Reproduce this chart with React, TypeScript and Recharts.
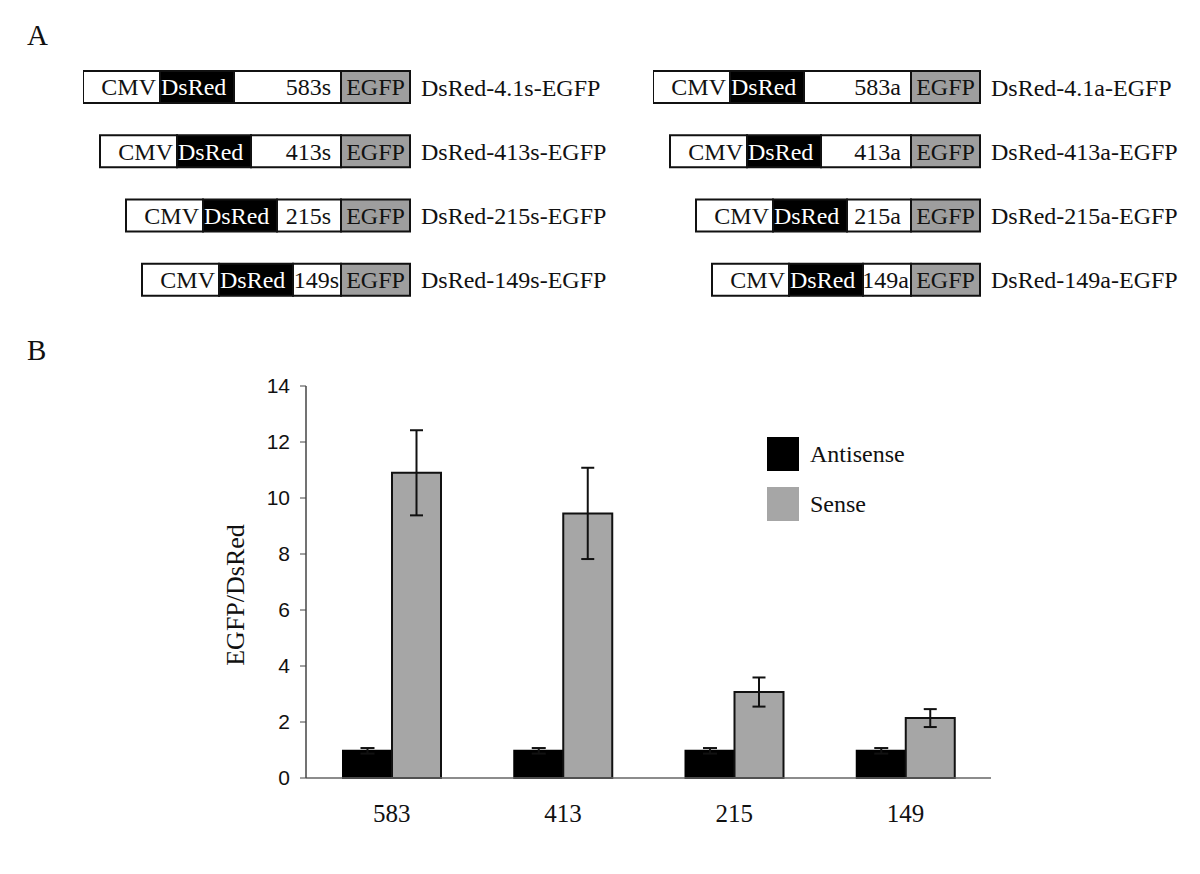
import React from 'react';
import { BarChart, Bar, XAxis, YAxis, ErrorBar, LabelList, Label } from 'recharts';

// panel A - construct schematic (segment lengths in schematic units)
const insertSizes = ['583', '413', '215', '149'];
const insertLengths = [107, 90, 64, 48];
const cmvLength = 77;
const dsredLength = 74;
const egfpLength = 69;
const senseNames = ['DsRed-4.1s-EGFP', 'DsRed-413s-EGFP', 'DsRed-215s-EGFP', 'DsRed-149s-EGFP'];
const antisenseNames = ['DsRed-4.1a-EGFP', 'DsRed-413a-EGFP', 'DsRed-215a-EGFP', 'DsRed-149a-EGFP'];

// panel B - EGFP/DsRed ratio
const categories = ['583', '413', '215', '149'];
const antisenseValues = [0.97, 0.97, 0.97, 0.97];
const antisenseErrors = [0.1, 0.1, 0.1, 0.1];
const senseValues = [10.9, 9.45, 3.07, 2.14];
const senseErrors = [1.52, 1.63, 0.52, 0.32];
const yTicks = [0, 2, 4, 6, 8, 10, 12, 14];

const serif = '"Liberation Serif", "Times New Roman", serif';
const sans = '"Liberation Sans", Arial, sans-serif';

const maxLength = cmvLength + dsredLength + Math.max(...insertLengths) + egfpLength;

const buildConstructs = (names: string[], suffix: string) =>
  names.map((name, i) => ({
    name,
    offset: maxLength - (cmvLength + dsredLength + insertLengths[i] + egfpLength),
    cmv: cmvLength,
    dsred: dsredLength,
    insert: insertLengths[i],
    egfp: egfpLength,
    insertLabel: insertSizes[i] + suffix,
  }));

const senseConstructs = buildConstructs(senseNames, 's');
const antisenseConstructs = buildConstructs(antisenseNames, 'a');

const ratioData = categories.map((name, i) => ({
  name,
  antisense: antisenseValues[i],
  antisenseErr: antisenseErrors[i],
  sense: senseValues[i],
  senseErr: senseErrors[i],
}));

const series = [
  { key: 'antisense', name: 'Antisense', fill: '#000000' },
  { key: 'sense', name: 'Sense', fill: '#a6a6a6' },
];

const boxOf = (p: any) => {
  const v = p.viewBox && p.viewBox.width !== undefined ? p.viewBox : p;
  return { x: Number(v.x), y: Number(v.y), width: Number(v.width), height: Number(v.height) };
};

const segmentText =
  (text: string | null, align: 'start' | 'middle' | 'end', color: string, pad = 0) =>
  (props: any) => {
    const { x, y, width, height } = boxOf(props);
    const label = text ?? String(props.value);
    let p = pad;
    if (text === null) p = Math.min(10, Math.max(2, (width - 44) / 2));
    let tx = x + p;
    if (align === 'middle') tx = x + width / 2;
    if (align === 'end') tx = x + width - p;
    return (
      <text x={tx} y={y + height / 2} dy="0.35em" textAnchor={align} fill={color} fontFamily={serif} fontSize={24}>
        {label}
      </text>
    );
  };

const ConstructChart = ({ data, left }: { data: any[]; left: number }) => (
  <div style={{ position: 'absolute', left, top: 55 }}>
    <BarChart
      width={maxLength + 200}
      height={257}
      data={data}
      layout="vertical"
      margin={{ top: 0, right: 0, bottom: 0, left: 0 }}
      barSize={32}
    >
      <XAxis type="number" hide domain={[0, maxLength]} />
      <YAxis
        type="category"
        dataKey="name"
        orientation="right"
        width={200}
        axisLine={false}
        tickLine={false}
        tickSize={0}
        tickMargin={11}
        tick={{ fontFamily: serif, fontSize: 24, fill: '#111' }}
      />
      <Bar dataKey="offset" stackId="c" fill="none" isAnimationActive={false} />
      <Bar dataKey="cmv" stackId="c" fill="#ffffff" stroke="#111" strokeWidth={2} isAnimationActive={false}>
        <LabelList content={segmentText('CMV', 'end', '#111', 4)} />
      </Bar>
      <Bar dataKey="dsred" stackId="c" fill="#000000" stroke="#111" strokeWidth={2} isAnimationActive={false}>
        <LabelList content={segmentText('DsRed', 'start', '#ffffff', 1)} />
      </Bar>
      <Bar dataKey="insert" stackId="c" fill="#ffffff" stroke="#111" strokeWidth={2} isAnimationActive={false}>
        <LabelList dataKey="insertLabel" content={segmentText(null, 'end', '#111')} />
      </Bar>
      <Bar dataKey="egfp" stackId="c" fill="#9e9e9e" stroke="#111" strokeWidth={2} isAnimationActive={false}>
        <LabelList content={segmentText('EGFP', 'middle', '#111')} />
      </Bar>
    </BarChart>
  </div>
);

const YLabel = (props: any) => {
  const vb = props.viewBox;
  const cx = vb.x + 45;
  const cy = vb.y + vb.height / 2 + 13;
  return (
    <text
      x={cx}
      y={cy}
      transform={`rotate(-90 ${cx} ${cy})`}
      textAnchor="middle"
      dominantBaseline="central"
      fontFamily={serif}
      fontSize={26}
      fill="#111"
    >
      EGFP/DsRed
    </text>
  );
};

const panelLabel = (text: string, top: number) => (
  <div style={{ position: 'absolute', left: 27, top, fontFamily: serif, fontSize: 29, lineHeight: 1, color: '#111' }}>
    {text}
  </div>
);

export default function App() {
  return (
    <div style={{ position: 'absolute', left: 0, top: 0, width: 1200, height: 874, background: '#fff' }}>
      {panelLabel('A', 21)}
      {panelLabel('B', 336)}

      <ConstructChart data={senseConstructs} left={83} />
      <ConstructChart data={antisenseConstructs} left={653} />

      <div style={{ position: 'absolute', left: 190, top: 360 }}>
        <BarChart
          width={801}
          height={478}
          data={ratioData}
          margin={{ top: 26, right: 0, bottom: 0, left: 0 }}
          barSize={49}
          barGap={0}
        >
          <XAxis
            dataKey="name"
            axisLine={{ stroke: '#666', strokeWidth: 1.5 }}
            tickLine={false}
            tickSize={0}
            tickMargin={26}
            height={60}
            tick={{ fontFamily: serif, fontSize: 25, fill: '#111' }}
          />
          <YAxis
            domain={[0, 14]}
            ticks={yTicks}
            width={116}
            axisLine={{ stroke: '#444', strokeWidth: 1.5 }}
            tickLine={{ stroke: '#444' }}
            tickSize={6}
            tickMargin={10}
            tick={{ fontFamily: sans, fontSize: 21, fill: '#111' }}
          >
            <Label content={YLabel} />
          </YAxis>
          <Bar dataKey="antisense" name="Antisense" fill="#000000" stroke="#000" strokeWidth={2} isAnimationActive={false}>
            <ErrorBar dataKey="antisenseErr" width={7} strokeWidth={2} stroke="#111" direction="y" />
          </Bar>
          <Bar dataKey="sense" name="Sense" fill="#a6a6a6" stroke="#111" strokeWidth={2} isAnimationActive={false}>
            <ErrorBar dataKey="senseErr" width={6.5} strokeWidth={2} stroke="#111" direction="y" />
          </Bar>
        </BarChart>
      </div>

      <div style={{ position: 'absolute', left: 767, top: 437 }}>
        {series.map((s) => (
          <div key={s.key} style={{ display: 'flex', alignItems: 'center', height: 34, marginBottom: 16 }}>
            <div style={{ width: 32, height: 34, background: s.fill }} />
            <span style={{ marginLeft: 11, fontFamily: serif, fontSize: 24, color: '#111' }}>{s.name}</span>
          </div>
        ))}
      </div>
    </div>
  );
}
